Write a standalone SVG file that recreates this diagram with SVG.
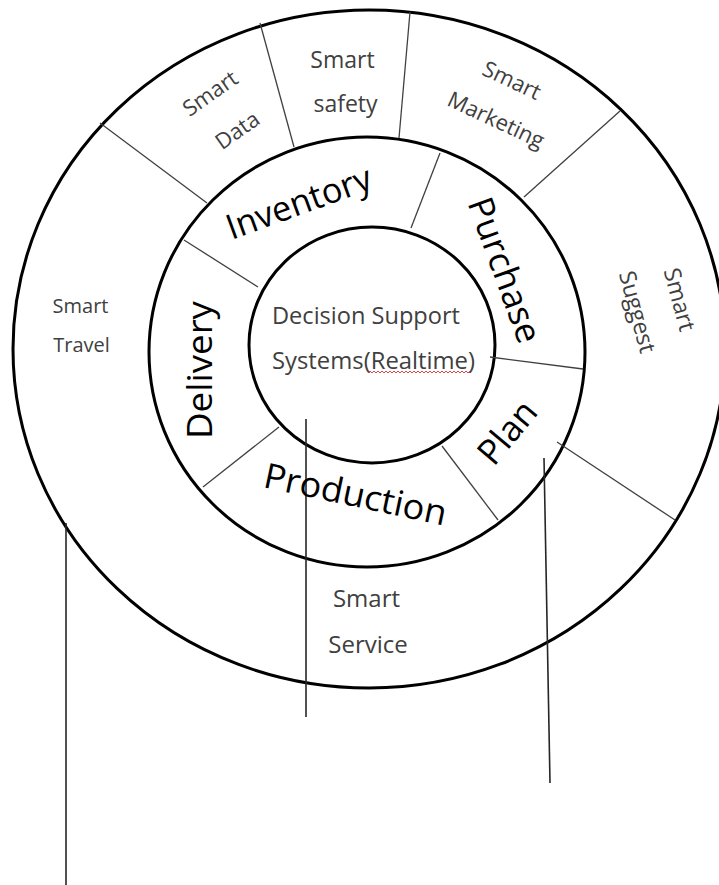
<svg xmlns="http://www.w3.org/2000/svg" width="719" height="885" viewBox="0 0 719 885">
<style>
.ring{fill:none;stroke:#000;stroke-width:3}
.div{stroke:#404040;stroke-width:1.3;fill:none}
.lead{stroke:#262626;stroke-width:1.6;fill:none}
.lbl{font-family:"Open Sans","Noto Sans","DejaVu Sans",sans-serif;font-size:22px;fill:#404040;text-anchor:middle}
.big{font-family:"Open Sans","Noto Sans","DejaVu Sans",sans-serif;font-size:35px;fill:#000;text-anchor:middle}
.core{font-family:"Open Sans","Noto Sans","DejaVu Sans",sans-serif;font-size:23px;fill:#404040}
.squig{fill:none;stroke:#e03030;stroke-width:0.9}
</style>
<rect width="719" height="885" fill="#fff"/>

<g id="outer-ring"><ellipse class="ring" cx="369" cy="349" rx="356" ry="339"/></g>
<g id="middle-ring"><ellipse class="ring" cx="367" cy="352" rx="218" ry="215"/></g>
<g id="inner-core"><ellipse class="ring" cx="372" cy="345" rx="123" ry="118"/></g>

<g id="connectors">
  <g id="dividers">
    <line class="div" x1="100" y1="123" x2="207" y2="203"/>
    <line class="div" x1="260" y1="23" x2="294" y2="147"/>
    <line class="div" x1="410" y1="12" x2="399" y2="138"/>
    <line class="div" x1="620" y1="111" x2="524" y2="197"/>
    <line class="div" x1="557" y1="442" x2="675" y2="520"/>
    <line class="div" x1="184" y1="240" x2="258" y2="287"/>
    <line class="div" x1="440" y1="153" x2="411" y2="228"/>
    <line class="div" x1="490" y1="357" x2="583" y2="369"/>
    <line class="div" x1="442" y1="446" x2="498" y2="520"/>
    <line class="div" x1="279" y1="427" x2="203" y2="487"/>
  </g>
  <g id="leader-lines">
    <line class="lead" x1="306" y1="419" x2="306" y2="717"/>
    <line class="lead" x1="544" y1="458" x2="550" y2="783"/>
    <line class="lead" x1="66" y1="523" x2="66" y2="885"/>
  </g>
</g>

<g id="smart-data" transform="translate(210,93) rotate(-35)">
  <text class="lbl" x="0" y="8">Smart</text>
  <text class="lbl" x="1" y="54">Data</text>
</g>
<g id="smart-safety">
  <text class="lbl" style="font-size:23px" x="342.5" y="68">Smart</text>
  <text class="lbl" style="font-size:23px" x="345.5" y="112">safety</text>
</g>
<g id="smart-marketing" transform="translate(512,80) rotate(25)">
  <text class="lbl" x="0" y="8">Smart</text>
  <text class="lbl" x="2.4" y="50.5">Marketing</text>
</g>
<g id="smart-suggest">
  <text class="lbl" style="font-size:23px" transform="translate(679.5,299.5) rotate(75)" x="0" y="8">Smart</text>
  <text class="lbl" style="font-size:23px" transform="translate(635,312.5) rotate(75)" x="0" y="5.5">Suggest</text>
</g>
<g id="smart-travel">
  <text class="lbl" style="font-size:20px" x="80.5" y="313">Smart</text>
  <text class="lbl" style="font-size:20px" x="81.5" y="352">Travel</text>
</g>
<g id="smart-service">
  <text class="lbl" style="font-size:24px" x="366.5" y="607">Smart</text>
  <text class="lbl" style="font-size:24px" x="368" y="653">Service</text>
</g>

<g id="inventory"><text class="big" transform="translate(300,206) rotate(-20)" x="0" y="8.5" textLength="152" lengthAdjust="spacingAndGlyphs">Inventory</text></g>
<g id="purchase"><text class="big" transform="translate(505,270) rotate(70)" x="0" y="12.5" textLength="152" lengthAdjust="spacingAndGlyphs">Purchase</text></g>
<g id="plan"><text class="big" transform="translate(507,432) rotate(-50)" x="0" y="12.5">Plan</text></g>
<g id="production"><text class="big" transform="translate(355.5,494) rotate(12)" x="0" y="12.5" textLength="186" lengthAdjust="spacingAndGlyphs">Production</text></g>
<g id="delivery"><text class="big" transform="translate(203.5,370) rotate(-90)" x="0" y="8.5" textLength="138" lengthAdjust="spacingAndGlyphs">Delivery</text></g>

<g id="decision-support">
  <text class="core" x="272" y="324" textLength="188" lengthAdjust="spacingAndGlyphs">Decision Support</text>
  <text class="core" x="272" y="369" textLength="203" lengthAdjust="spacingAndGlyphs">Systems(Realtime)</text>
  <path class="squig" d="M368,373 l2,-2 l2,2 l2,-2 l2,2 l2,-2 l2,2 l2,-2 l2,2 l2,-2 l2,2 l2,-2 l2,2 l2,-2 l2,2 l2,-2 l2,2 l2,-2 l2,2 l2,-2 l2,2 l2,-2 l2,2 l2,-2 l2,2 l2,-2 l2,2 l2,-2 l2,2 l2,-2 l2,2 l2,-2 l2,2 l2,-2 l2,2 l2,-2 l2,2 l2,-2 l2,2 l2,-2 l2,2 l2,-2 l2,2 l2,-2 l2,2 l2,-2 l2,2 l2,-2 l2,2 l2,-2 l2,2 l2,-2"/>
</g>
</svg>
